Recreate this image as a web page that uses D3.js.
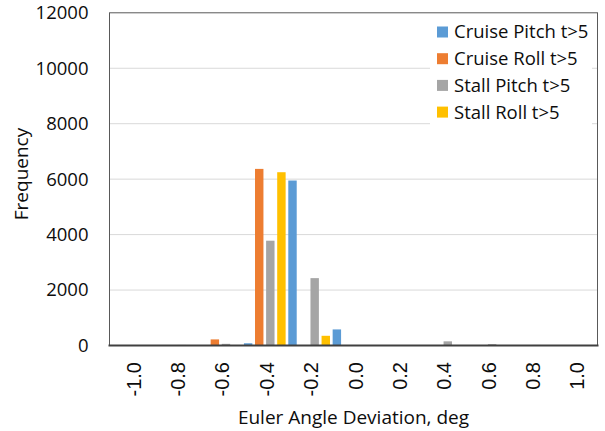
<!DOCTYPE html>
<html>
<head>
<meta charset="utf-8">
<script src="https://cdn.jsdelivr.net/npm/d3@7"></script>
<style>
  html, body { margin: 0; padding: 0; background: #fff; }
  svg { display: block; }
</style>
</head>
<body>
<svg id="chart" width="605" height="431"></svg>
<script>
// ---- data ----
const categories = ["-1.0","-0.8","-0.6","-0.4","-0.2","0.0","0.2","0.4","0.6","0.8","1.0"];
const seriesNames = ["Cruise Pitch t>5","Cruise Roll t>5","Stall Pitch t>5","Stall Roll t>5"];
const seriesColors = ["#5B9BD5","#ED7D31","#A5A5A5","#FFC000"];
const cruisePitch = [0, 0, 0, 80, 5950, 580, 0, 0, 0, 0, 0];
const cruiseRoll  = [0, 0, 220, 6370, 0, 0, 0, 0, 0, 0, 0];
const stallPitch  = [0, 20, 60, 3780, 2430, 0, 0, 150, 50, 20, 0];
const stallRoll   = [0, 0, 0, 6250, 350, 0, 0, 0, 0, 0, 0];
const yTicks = [0, 2000, 4000, 6000, 8000, 10000, 12000];
const yTitle = "Frequency";
const xTitle = "Euler Angle Deviation, deg";

const seriesValues = [cruisePitch, cruiseRoll, stallPitch, stallRoll];

// ---- layout ----
const svg = d3.select("#chart");
const plot = { left: 109.5, right: 597.5, top: 12.8, bottom: 345.5 };
const calibriLike = "'Open Sans', 'Noto Sans', sans-serif";
const arialLike = "'Liberation Sans', Arial, sans-serif";
const textColor = "#0d0d0d";

const x = d3.scaleBand().domain(categories).range([plot.left, plot.right]).padding(0);
const xs = d3.scaleBand().domain(seriesNames).range([0, x.bandwidth()])
  .paddingInner(0.24).paddingOuter(0.12);
const y = d3.scaleLinear().domain([0, 12000]).range([plot.bottom, plot.top]);
const color = d3.scaleOrdinal().domain(seriesNames).range(seriesColors);

// gridlines
svg.append("g").selectAll("line").data(yTicks.filter(d => d > 0 && d < 12000)).join("line")
  .attr("x1", plot.left).attr("x2", plot.right)
  .attr("y1", d => y(d)).attr("y2", d => y(d))
  .attr("stroke", "#d9d9d9").attr("stroke-width", 1);

// bars
const flat = [];
seriesNames.forEach((s, si) => {
  categories.forEach((c, ci) => {
    flat.push({ series: s, cat: c, value: seriesValues[si][ci] });
  });
});
svg.append("g").selectAll("rect").data(flat.filter(d => d.value > 0)).join("rect")
  .attr("x", d => x(d.cat) + xs(d.series))
  .attr("width", xs.bandwidth())
  .attr("y", d => y(d.value))
  .attr("height", d => y(0) - y(d.value))
  .attr("fill", d => color(d.series));

// plot border
svg.append("rect")
  .attr("x", plot.left).attr("y", plot.top)
  .attr("width", plot.right - plot.left).attr("height", plot.bottom - plot.top)
  .attr("fill", "none").attr("stroke", "#595959").attr("stroke-width", 1);

// x axis line
svg.append("line")
  .attr("x1", plot.left - 1).attr("x2", plot.right + 1)
  .attr("y1", plot.bottom).attr("y2", plot.bottom)
  .attr("stroke", "#404040").attr("stroke-width", 2);

// y axis tick labels
const yAxis = d3.axisLeft(y).tickValues(yTicks).tickFormat(d3.format("d")).tickSize(0).tickPadding(21);
const gy = svg.append("g").attr("transform", `translate(${plot.left},0)`).call(yAxis);
gy.select(".domain").remove();
gy.selectAll("text")
  .attr("font-family", calibriLike).attr("font-size", "18.5px").attr("fill", textColor);

// x axis labels (rotated)
const xAxis = d3.axisBottom(x).tickSize(0).tickPadding(0);
const gx = svg.append("g").attr("transform", `translate(2,${plot.bottom})`).call(xAxis);
gx.select(".domain").remove();
gx.selectAll("text")
  .attr("font-family", arialLike).attr("font-size", "20px").attr("fill", textColor)
  .attr("transform", "rotate(-90)")
  .attr("text-anchor", "end")
  .attr("x", -16.5).attr("y", 0).attr("dy", "0.35em");

// axis titles
svg.append("text")
  .attr("transform", `translate(28,174) rotate(-90)`)
  .attr("text-anchor", "middle")
  .attr("font-family", calibriLike).attr("font-size", "19px").attr("fill", textColor)
  .text(yTitle);
svg.append("text")
  .attr("x", (plot.left + plot.right) / 2).attr("y", 424)
  .attr("text-anchor", "middle")
  .attr("font-family", calibriLike).attr("font-size", "19px").attr("fill", textColor)
  .text(xTitle);

// legend
const lg = svg.append("g");
lg.append("rect").attr("x", 430).attr("y", 14).attr("width", 162).attr("height", 112).attr("fill", "#fff");
const rows = lg.selectAll("g.row").data(seriesNames).join("g").attr("class", "row")
  .attr("transform", (d, i) => `translate(437,${32 + i * 26.7})`);
rows.append("rect").attr("x", 0).attr("y", -5.5).attr("width", 11).attr("height", 11)
  .attr("fill", d => color(d));
rows.append("text").attr("x", 17).attr("y", 0).attr("dy", "0.35em")
  .attr("font-family", calibriLike).attr("font-size", "18.5px").attr("fill", textColor)
  .text(d => d);
</script>
</body>
</html>
